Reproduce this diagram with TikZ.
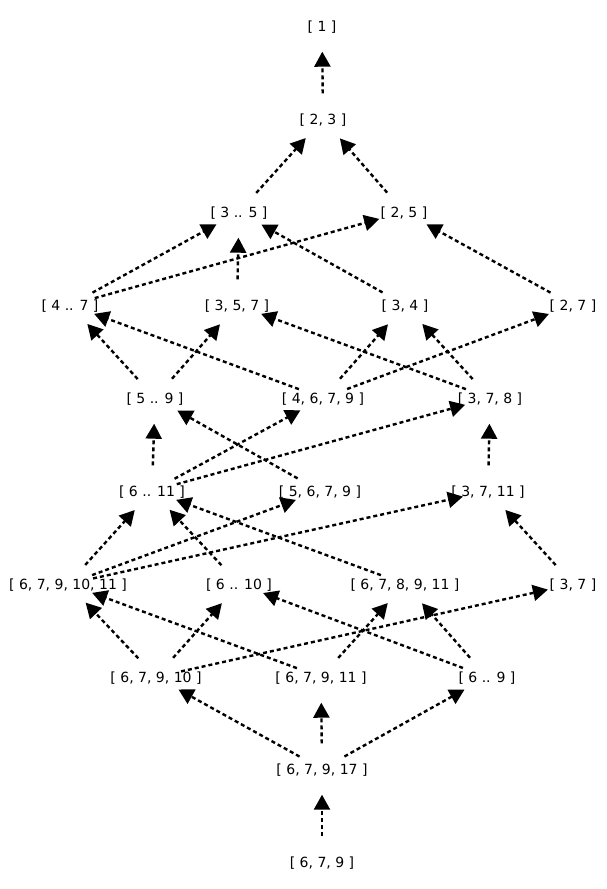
\documentclass[tikz,border=0pt]{standalone}
\usepackage{fontspec}
\setmainfont{DejaVu Sans}
\usetikzlibrary{arrows.meta}
% a vertex: an invisible round port that edges clip to, plus its text
\newcommand{\vtx}[4]{%
  \node[vert] (#1) at (#2,#3) {};
  \node[lbl] (#1-t) at (#1.center) {#4};}
\begin{document}
\begin{tikzpicture}[x=1pt,y=-1pt,
  vert/.style={circle, minimum size=51pt, inner sep=0pt},
  lbl/.style={font=\fontsize{14}{16}\selectfont, inner sep=0pt, yshift=-0.8pt},
  link/.style={draw=black, line width=2.4pt, dash pattern=on 4pt off 3pt,
               -{Triangle[length=15pt,width=16pt]}}]
\path[fill=white] (0,0) rectangle (607,889);
\useasboundingbox (0,0) rectangle (607,889);

\vtx{n1}{322}{26}{[ 1 ]}
\vtx{n23}{323}{119}{[ 2, 3 ]}
\vtx{n35}{239}{212}{[ 3 .. 5 ]}
\vtx{n25}{404}{212}{[ 2, 5 ]}
\vtx{n47}{70}{305}{[ 4 .. 7 ]}
\vtx{n357}{237}{305}{[ 3, 5, 7 ]}
\vtx{n34}{405}{305}{[ 3, 4 ]}
\vtx{n27}{573}{305}{[ 2, 7 ]}
\vtx{n59}{155}{398}{[ 5 .. 9 ]}
\vtx{n4679}{323}{398}{[ 4, 6, 7, 9 ]}
\vtx{n378}{490}{398}{[ 3, 7, 8 ]}
\vtx{n611}{152}{491}{[ 6 .. 11 ]}
\vtx{n5679}{320}{491}{[ 5, 6, 7, 9 ]}
\vtx{n3711}{488}{491}{[ 3, 7, 11 ]}
\vtx{n679ab}{68}{584}{[ 6, 7, 9, 10, 11 ]}
\vtx{n610}{239}{584}{[ 6 .. 10 ]}
\vtx{n67891}{405}{584}{[ 6, 7, 8, 9, 11 ]}
\vtx{n37}{573}{584}{[ 3, 7 ]}
\vtx{n67910}{156}{677}{[ 6, 7, 9, 10 ]}
\vtx{n67911}{321}{677}{[ 6, 7, 9, 11 ]}
\vtx{n69}{487}{677}{[ 6 .. 9 ]}
\vtx{n67917}{322}{769}{[ 6, 7, 9, 17 ]}
\vtx{n679}{322}{862}{[ 6, 7, 9 ]}

\foreach \a/\b in {n23/n1, n35/n23, n25/n23,
    n47/n35, n47/n25, n357/n35, n34/n35, n27/n25,
    n59/n47, n59/n357, n4679/n47, n4679/n34, n4679/n27, n378/n357, n378/n34,
    n611/n59, n611/n4679, n611/n378, n5679/n59, n3711/n378,
    n679ab/n611, n679ab/n5679, n679ab/n3711, n610/n611, n67891/n611, n37/n3711,
    n67910/n679ab, n67910/n610, n67910/n37, n67911/n679ab, n67911/n67891,
    n69/n610, n69/n67891,
    n67917/n67910, n67917/n67911, n67917/n69, n679/n67917}
  \draw[link] (\a) -- (\b);
\end{tikzpicture}
\end{document}
